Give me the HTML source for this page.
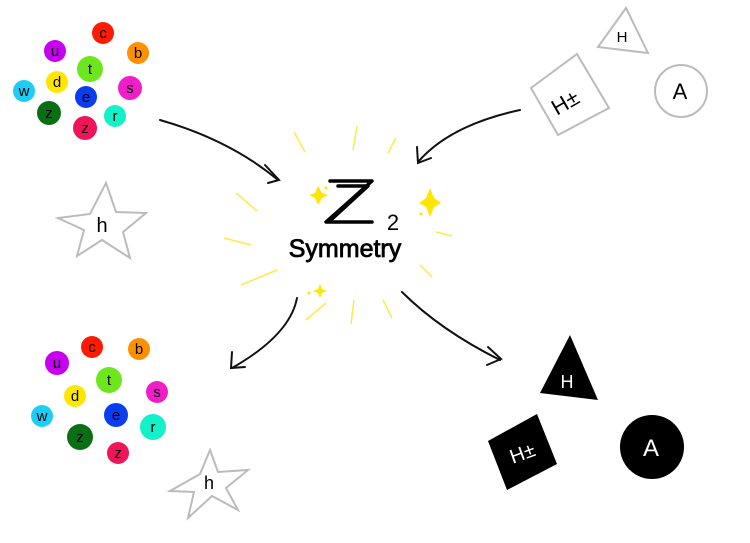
<!DOCTYPE html>
<html><head><meta charset="utf-8"><style>
html,body{margin:0;padding:0;background:#fff;}
svg{display:block}
text{font-family:"Liberation Sans",sans-serif;}
</style></head><body>
<svg width="750" height="543" viewBox="0 0 750 543" xmlns="http://www.w3.org/2000/svg">
<g font-size="15" text-anchor="middle" fill="#000">
<circle cx="103" cy="33" r="11" fill="#ff1a00"/><text x="103" y="38">c</text>
<circle cx="138" cy="53" r="11" fill="#ff9000"/><text x="138" y="58">b</text>
<circle cx="55" cy="51" r="11" fill="#c800f0"/><text x="55" y="56">u</text>
<circle cx="90" cy="69" r="13" fill="#6ee61e"/><text x="90" y="74">t</text>
<circle cx="57" cy="82" r="11" fill="#ffe600"/><text x="57" y="87">d</text>
<circle cx="130" cy="88" r="12" fill="#f01ec8"/><text x="130" y="93">s</text>
<circle cx="24" cy="91" r="11" fill="#1ecdf5"/><text x="24" y="96">w</text>
<circle cx="86" cy="97" r="11" fill="#0a3cf0"/><text x="86" y="102">e</text>
<circle cx="49" cy="113" r="12" fill="#0a6e14"/><text x="49" y="118">z</text>
<circle cx="115" cy="116" r="11" fill="#14f0c8"/><text x="115" y="121">r</text>
<circle cx="85" cy="128" r="12" fill="#f0145a"/><text x="85" y="133">z</text>
<circle cx="92" cy="347" r="11" fill="#ff1a00"/><text x="92" y="352">c</text>
<circle cx="139" cy="349" r="11" fill="#ff9000"/><text x="139" y="354">b</text>
<circle cx="57" cy="363" r="12" fill="#c800f0"/><text x="57" y="368">u</text>
<circle cx="109" cy="380" r="13" fill="#6ee61e"/><text x="109" y="385">t</text>
<circle cx="75" cy="396" r="11" fill="#ffe600"/><text x="75" y="401">d</text>
<circle cx="157" cy="392" r="11" fill="#f01ec8"/><text x="157" y="397">s</text>
<circle cx="42" cy="416" r="11" fill="#1ecdf5"/><text x="42" y="421">w</text>
<circle cx="116" cy="415" r="12" fill="#0a3cf0"/><text x="116" y="420">e</text>
<circle cx="153" cy="427" r="13" fill="#14f0c8"/><text x="153" y="432">r</text>
<circle cx="80" cy="437" r="13" fill="#0a6e14"/><text x="80" y="442">z</text>
<circle cx="118" cy="453" r="11" fill="#f0145a"/><text x="118" y="458">z</text>
</g>
<polygon points="106,183 116,212 146,213 123,232 130,258 102,240 77,256 84,230 58,218 90,214" fill="none" stroke="#bbb" stroke-width="2"/>
<text x="102" y="232" font-size="20" text-anchor="middle">h</text>
<polygon points="210,450 218,472 248,470 226,488 238,510 212,496 188,518 194,492 170,491 200,474" fill="none" stroke="#bbb" stroke-width="2"/>
<text x="209" y="489" font-size="18" text-anchor="middle">h</text>
<polygon points="626,8 648,53 598,47" fill="none" stroke="#bbb" stroke-width="2"/>
<text x="622" y="42" font-size="15" text-anchor="middle">H</text>
<polygon points="531,88 577,54 609,108 558,135" fill="none" stroke="#bbb" stroke-width="2"/>
<text x="565" y="110" font-size="22" text-anchor="middle" transform="rotate(-30 565 102)">H±</text>
<circle cx="681" cy="91" r="26" fill="none" stroke="#bbb" stroke-width="2"/>
<text x="680" y="99" font-size="22" text-anchor="middle">A</text>
<polygon points="570,335 598,400 540,393" fill="#000"/>
<text x="567" y="388" font-size="18" fill="#fff" text-anchor="middle">H</text>
<polygon points="488,441 537,414 557,464 507,490" fill="#000"/>
<text x="522" y="460" font-size="20" fill="#fff" text-anchor="middle" transform="rotate(-20 522 452)">H±</text>
<circle cx="652" cy="447" r="32" fill="#000"/>
<text x="651" y="456" font-size="24" fill="#fff" text-anchor="middle">A</text>
<g fill="none" stroke="#111" stroke-width="2" stroke-linecap="round">
<path d="M160,120 Q230,140 278,180"/><path d="M265,165 L279,180 L268,183"/>
<path d="M520,110 Q450,125 418,162"/><path d="M417,147 L418,163 L431,158"/>
<path d="M297,298 Q290,335 232,368"/><path d="M232,352 L231,368 L245,367"/>
<path d="M402,292 Q440,330 500,360"/><path d="M488,347 L501,359 L487,365"/>
</g>
<g stroke="#ffe84a" stroke-width="1.5" fill="none">
<line x1="294" y1="132" x2="305" y2="152"/><line x1="357" y1="126" x2="353" y2="150"/>
<line x1="396" y1="138" x2="388" y2="153"/><line x1="236" y1="193" x2="257" y2="211"/>
<line x1="224" y1="238" x2="251" y2="245"/><line x1="241" y1="285" x2="277" y2="270"/>
<line x1="306" y1="320" x2="326" y2="303"/><line x1="351" y1="324" x2="354" y2="300"/>
<line x1="383" y1="300" x2="392" y2="318"/><line x1="420" y1="265" x2="432" y2="277"/>
<line x1="436" y1="232" x2="452" y2="236"/>
</g>
<g fill="#ffe600">
<path d="M318,186 L322,193 L328,195 L322,198 L318,205 L315,198 L309,195 L315,193Z"/>
<path d="M430,188 L434,198 L441,203 L434,207 L430,217 L426,207 L419,203 L426,198Z"/>
<path d="M320,284 L322,289 L327,291 L322,293 L320,298 L318,293 L313,291 L318,289Z"/>
<circle cx="326" cy="188" r="1.5"/><circle cx="421" cy="214" r="1.5"/><circle cx="309" cy="293" r="1.5"/>
</g>
<g fill="none" stroke="#000" stroke-width="3.5" stroke-linejoin="round" stroke-linecap="round">
<path d="M330,181 L372,181 L326,222 L372,222"/>
<path d="M338,186 L368,186 L332,219"/>
</g>
<text x="393" y="230" font-size="22" text-anchor="middle">2</text>
<text x="345" y="257" font-size="25" text-anchor="middle" stroke="#000" stroke-width="0.8" letter-spacing="0">Symmetry</text>
</svg>
</body></html>
